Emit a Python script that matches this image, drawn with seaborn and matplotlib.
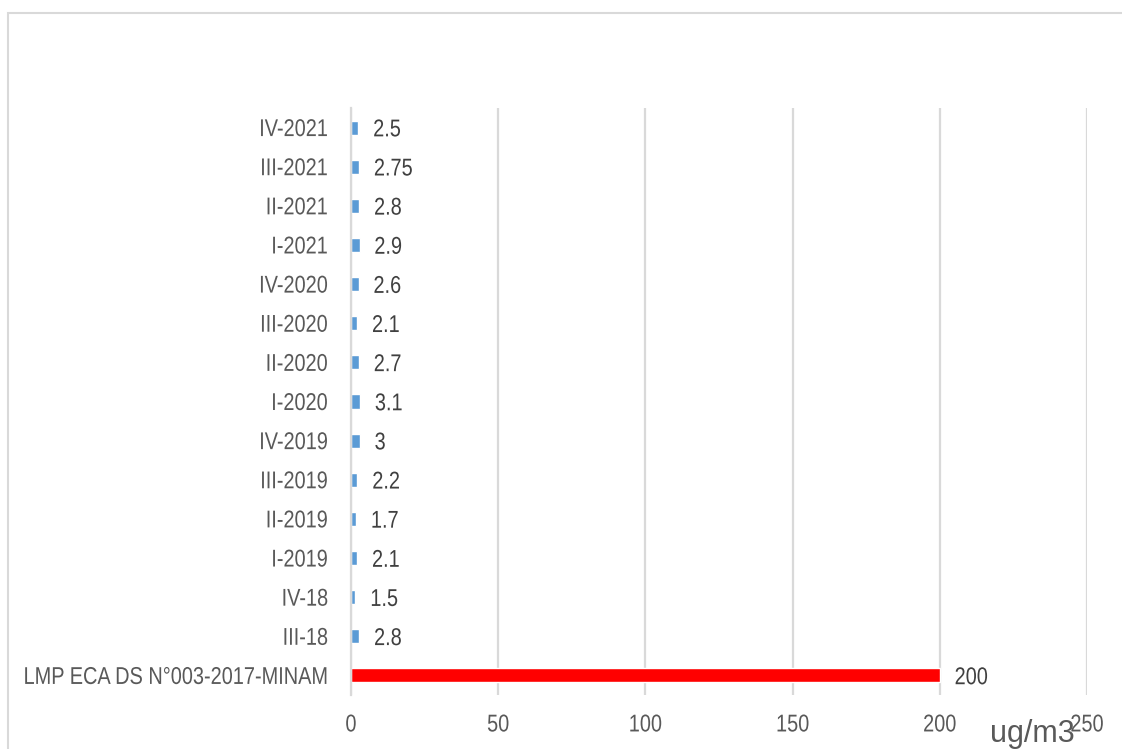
import matplotlib
matplotlib.use("Agg")
import matplotlib.pyplot as plt
from matplotlib.patches import Rectangle
from matplotlib.patheffects import AbstractPathEffect
from matplotlib.transforms import Affine2D
import seaborn as sns
import pandas as pd

# Quarterly PM measurements (top to bottom) and the regulatory limit
periods = ["IV-2021", "III-2021", "II-2021", "I-2021", "IV-2020", "III-2020",
           "II-2020", "I-2020", "IV-2019", "III-2019", "II-2019", "I-2019",
           "IV-18", "III-18", "LMP ECA DS N°003-2017-MINAM"]
values = [2.5, 2.75, 2.8, 2.9, 2.6, 2.1, 2.7, 3.1, 3, 2.2, 1.7, 2.1, 1.5, 2.8, 200]
groups = ["Medición"] * 14 + ["Límite"]
x_ticks = [0, 50, 100, 150, 200, 250]
unit_label = "ug/m3"

df = pd.DataFrame({"periodo": periods, "valor": values, "grupo": groups})


class Condense(AbstractPathEffect):
    """Squeeze text glyphs horizontally around a chosen anchor."""

    def __init__(self, sx=0.82, align="left"):
        super().__init__()
        self.sx = sx
        self.align = align

    def draw_path(self, renderer, gc, tpath, affine, rgbFace=None):
        ext = tpath.get_extents()
        x0 = {"left": ext.x0, "right": ext.x1,
              "center": 0.5 * (ext.x0 + ext.x1)}[self.align]
        squeeze = Affine2D().translate(-x0, 0).scale(self.sx, 1).translate(x0, 0)
        renderer.draw_path(gc, tpath, squeeze + affine, rgbFace)


sns.set_theme(style="white")
plt.rcParams["font.family"] = ["Liberation Sans", "DejaVu Sans"]
SX = 0.82

fig = plt.figure(figsize=(11.22, 7.49), dpi=100)
ax = fig.add_axes([351 / 1122, 1 - 695 / 749, (1087 - 351) / 1122, (695 - 108) / 749])

sns.barplot(data=df, x="valor", y="periodo", hue="grupo", orient="h",
            palette={"Medición": "#5B9BD5", "Límite": "#FF0000"},
            dodge=False, width=0.36, legend=False, ax=ax, saturation=1)

ax.set_xlim(0, 250)
ax.set_xticks(x_ticks)
ax.set_xlabel("")
ax.set_ylabel("")
ax.grid(axis="x", color="#D9D9D9", linewidth=1.6)
ax.set_axisbelow(True)
for s in ["top", "right", "bottom"]:
    ax.spines[s].set_visible(False)
ax.spines["left"].set_color("#D9D9D9")
ax.spines["left"].set_linewidth(1.6)
ax.tick_params(axis="x", length=0, pad=14, labelsize=17.5, labelcolor="#595959")
ax.tick_params(axis="y", length=0, pad=16.5, labelsize=17.5, labelcolor="#595959")

for lab in ax.get_xticklabels():
    lab.set_path_effects([Condense(SX, "center")])
for lab in ax.get_yticklabels():
    lab.set_path_effects([Condense(SX, "right")])

for container in ax.containers:
    texts = ax.bar_label(container,
                         labels=[f"{v:g}" if v == v else "" for v in container.datavalues],
                         padding=10.5, fontsize=17.5, color="#404040")
    for t in texts:
        t.xyann = (10.5, -2)
        t.set_path_effects([Condense(SX, "left")])

fig.text(1032 / 1122, 1 - 734 / 749, unit_label, ha="center", va="center",
         fontsize=22, color="#595959")

# Light frame around the chart area
fig.patches.append(Rectangle((8 / 1122, -0.1), 1.2, 1 - 13 / 749 + 0.1,
                             transform=fig.transFigure, fill=False,
                             edgecolor="#D9D9D9", linewidth=1.5))

fig.savefig("out.png", dpi=100)
